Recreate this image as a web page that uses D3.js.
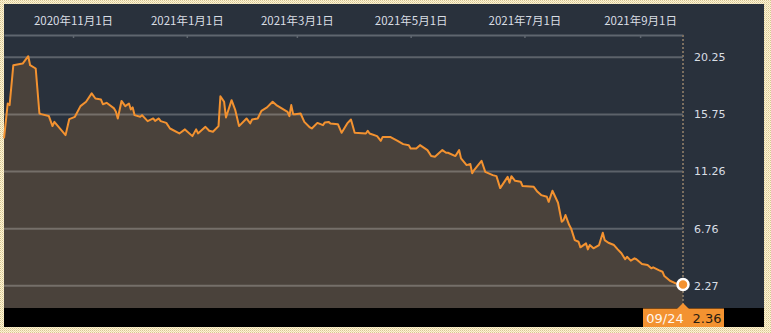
<!DOCTYPE html>
<html>
<head>
<meta charset="utf-8">
<script src="https://cdn.jsdelivr.net/npm/d3@7"></script>
<style>
  html, body { margin: 0; padding: 0; background: #fbf5e2; }
  svg { display: block; }
</style>
</head>
<body>
<div id="chart"></div>
<script>
var dates = [
  '2020-09-25','2020-09-27','2020-09-28','2020-09-30','2020-10-05','2020-10-08','2020-10-09','2020-10-12',
  '2020-10-14','2020-10-15','2020-10-19','2020-10-21','2020-10-22','2020-10-28','2020-10-30','2020-11-02',
  '2020-11-05','2020-11-08','2020-11-11','2020-11-13','2020-11-16','2020-11-17','2020-11-19','2020-11-23',
  '2020-11-24','2020-11-25','2020-11-27','2020-11-29','2020-12-01','2020-12-02','2020-12-03','2020-12-04',
  '2020-12-07','2020-12-08','2020-12-11','2020-12-14','2020-12-15','2020-12-17','2020-12-18','2020-12-21',
  '2020-12-23','2020-12-28','2020-12-31','2021-01-04','2021-01-06','2021-01-07','2021-01-11','2021-01-13',
  '2021-01-15','2021-01-18','2021-01-19','2021-01-21','2021-01-22','2021-01-25','2021-01-27','2021-01-29',
  '2021-02-02','2021-02-04','2021-02-05','2021-02-08','2021-02-10','2021-02-13','2021-02-16','2021-02-18',
  '2021-02-24','2021-02-25','2021-02-26','2021-02-27','2021-02-28','2021-03-03','2021-03-05','2021-03-08',
  '2021-03-09','2021-03-12','2021-03-15','2021-03-16','2021-03-18','2021-03-19','2021-03-23','2021-03-25',
  '2021-03-28','2021-03-30','2021-04-01','2021-04-07','2021-04-08','2021-04-09','2021-04-13','2021-04-15',
  '2021-04-16','2021-04-20','2021-04-24','2021-04-27','2021-04-30','2021-05-01','2021-05-04','2021-05-06',
  '2021-05-10','2021-05-12','2021-05-14','2021-05-18','2021-05-20','2021-05-21','2021-05-25','2021-05-27',
  '2021-05-28','2021-05-31','2021-06-02','2021-06-03','2021-06-04','2021-06-08','2021-06-10','2021-06-14',
  '2021-06-16','2021-06-18','2021-06-21','2021-06-22','2021-06-23','2021-06-24','2021-06-26','2021-06-29',
  '2021-06-30','2021-07-06','2021-07-08','2021-07-10','2021-07-13','2021-07-14','2021-07-16','2021-07-19',
  '2021-07-21','2021-07-22','2021-07-23','2021-07-25','2021-07-26','2021-07-28','2021-07-30','2021-07-31',
  '2021-08-03','2021-08-04','2021-08-05','2021-08-07','2021-08-10','2021-08-12','2021-08-13','2021-08-15',
  '2021-08-18','2021-08-20','2021-08-22','2021-08-24','2021-08-25','2021-08-27','2021-08-29','2021-08-30',
  '2021-09-02','2021-09-05','2021-09-07','2021-09-08','2021-09-11','2021-09-13','2021-09-14','2021-09-17',
  '2021-09-21','2021-09-24'
];

var values = [
  13.86,16.61,16.48,19.62,19.75,20.33,19.62,19.36,
  15.82,15.77,15.63,14.83,15.16,14.12,15.38,15.56,
  16.40,16.74,17.40,17.00,16.92,16.55,16.66,16.22,
  15.95,15.43,16.81,16.40,16.61,16.14,16.30,15.69,
  15.56,15.69,15.22,15.43,15.24,15.43,15.22,15.08,
  14.64,14.25,14.57,14.04,14.57,14.25,14.77,14.46,
  14.38,14.83,17.18,16.74,15.51,16.87,16.08,14.83,
  15.43,15.04,15.35,15.43,16.03,16.30,16.74,16.48,
  15.95,15.61,16.48,15.77,15.77,15.82,15.16,14.72,
  14.64,15.08,14.90,15.12,15.16,15.04,14.98,14.30,
  15.04,15.35,14.30,14.25,14.46,14.25,14.04,13.67,
  13.98,13.98,13.67,13.41,13.33,13.07,13.07,13.33,
  12.94,12.47,12.41,12.94,12.73,12.73,12.47,12.94,
  12.29,11.76,11.84,11.11,11.37,12.10,11.23,10.97,
  10.89,9.95,10.62,10.84,10.37,10.89,10.52,10.45,
  10.11,10.05,9.66,9.40,9.27,8.87,9.74,8.80,
  7.30,7.44,7.83,7.04,6.78,5.86,5.73,5.29,
  5.60,5.13,5.47,5.21,5.47,6.44,5.86,5.65,
  5.47,5.13,4.82,4.35,4.55,4.24,4.42,4.35,
  3.98,3.90,3.64,3.72,3.50,3.37,3.03,2.66,
  2.40,2.36
];

var xTickDates = ['2020-11-01','2021-01-01','2021-03-01','2021-05-01','2021-07-01','2021-09-01'];
var yTickValues = [2.27, 6.76, 11.26, 15.75, 20.25];
var xDomain = ['2020-09-25','2021-09-24'];
var lastLabel = '09/24';

var W = 771, H = 333;
var parse = d3.timeParse('%Y-%m-%d');

var data = dates.map(function(d, i) { return { date: parse(d), value: values[i] }; });

var x = d3.scaleTime().domain(xDomain.map(parse)).range([4, 683]);
var y = d3.scaleLinear().domain([2.27, 20.25]).range([285.7, 57.2]);

var svg = d3.select('#chart').append('svg').attr('width', W).attr('height', H);

// beige dotted frame
var defs = svg.append('defs');
var pat = defs.append('pattern').attr('id', 'dots').attr('width', 2).attr('height', 2)
    .attr('patternUnits', 'userSpaceOnUse');
pat.append('rect').attr('width', 2).attr('height', 2).attr('fill', '#fbf3d8');
pat.append('rect').attr('width', 1).attr('height', 1).attr('fill', '#d8c690');
pat.append('rect').attr('x', 1).attr('y', 1).attr('width', 1).attr('height', 1).attr('fill', '#ecdcaa');
svg.append('rect').attr('width', W).attr('height', H).attr('fill', 'url(#dots)');

// chart background + black strip
svg.append('rect').attr('x', 4).attr('y', 4).attr('width', 760).attr('height', 304).attr('fill', '#29313c');
svg.append('rect').attr('x', 4).attr('y', 308).attr('width', 760).attr('height', 19).attr('fill', '#000');

// area
var area = d3.area().x(function(d) { return x(d.date); })
    .y0(308).y1(function(d) { return y(d.value); });
svg.append('path').datum(data).attr('d', area).attr('fill', '#4a423b');

// gridlines
svg.append('g').selectAll('line').data(yTickValues).enter().append('line')
    .attr('x1', 4).attr('x2', 683)
    .attr('y1', function(d) { return y(d); }).attr('y2', function(d) { return y(d); })
    .attr('stroke', 'rgba(255,255,255,0.24)').attr('stroke-width', 2);

// top date axis
var xAxis = d3.axisTop(x)
    .tickValues(xTickDates.map(parse))
    .tickFormat(d3.timeFormat('%Y年%-m月%-d日'))
    .tickSizeInner(-3).tickSizeOuter(0).tickPadding(10);
var gx = svg.append('g').attr('transform', 'translate(0,35)').call(xAxis);
gx.select('.domain').attr('stroke', '#5f666f').attr('stroke-width', 2);
gx.selectAll('.tick line').attr('stroke', '#5f666f').attr('stroke-width', 1.5);
gx.selectAll('.tick text').attr('fill', '#d9dee4')
    .style('font-family', '"Noto Sans CJK JP", sans-serif').style('font-size', '11.5px');

// dotted vertical line at last date
svg.append('line').attr('x1', 683).attr('x2', 683).attr('y1', 35).attr('y2', 308)
    .attr('stroke', '#7b6f60').attr('stroke-width', 2).attr('stroke-dasharray', '2,2');

// right value labels
var yAxis = d3.axisRight(y).tickValues(yTickValues).tickFormat(d3.format('.2f'))
    .tickSize(0).tickPadding(11);
var gy = svg.append('g').attr('transform', 'translate(683,0)').call(yAxis);
gy.select('.domain').remove();
gy.selectAll('.tick text').attr('fill', '#d9dee4')
    .style('font-family', '"DejaVu Sans", sans-serif').style('font-size', '11px');

// price line
var line = d3.line().x(function(d) { return x(d.date); }).y(function(d) { return y(d.value); });
svg.append('path').datum(data).attr('d', line).attr('fill', 'none')
    .attr('stroke', '#f39230').attr('stroke-width', 2).attr('stroke-linejoin', 'round');

// last point marker
var last = data[data.length - 1];
svg.append('circle').attr('cx', x(last.date)).attr('cy', y(last.value)).attr('r', 5.5)
    .attr('fill', '#f39230').attr('stroke', '#fff').attr('stroke-width', 2.5);

// bottom tag
var lx = x(last.date);
var tag = svg.append('g');
tag.append('path').attr('d', 'M' + (lx - 6) + ',309 L' + lx + ',303 L' + (lx + 6) + ',309 Z').attr('fill', '#f39230');
tag.append('rect').attr('x', lx - 40).attr('y', 308.5).attr('width', 81).attr('height', 18.5).attr('fill', '#f39230');
tag.append('text').attr('x', lx - 18).attr('y', 323).attr('text-anchor', 'middle')
    .attr('fill', '#fff7ee').style('font-family', '"DejaVu Sans", sans-serif').style('font-size', '13px')
    .text(lastLabel);
tag.append('text').attr('x', lx + 24).attr('y', 323).attr('text-anchor', 'middle')
    .attr('fill', '#2a1c10').style('font-family', '"DejaVu Sans", sans-serif').style('font-size', '13px')
    .text(d3.format('.2f')(last.value));
</script>
</body>
</html>
